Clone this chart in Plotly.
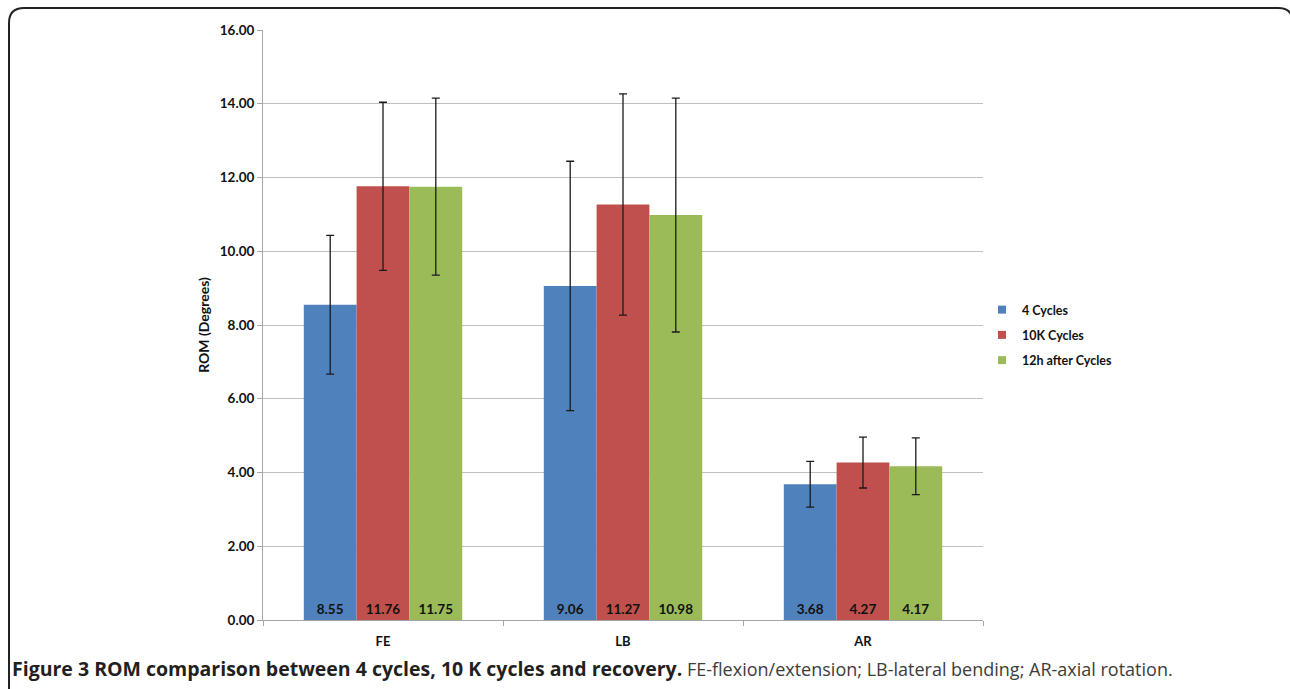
import plotly.graph_objects as go

# ROM per motion and loading condition (degrees), with standard deviations
motions = ["FE", "LB", "AR"]
series_names = ["4 Cycles", "10K Cycles", "12h after Cycles"]
rom_4_cycles = [8.55, 9.06, 3.68]
rom_10k_cycles = [11.76, 11.27, 4.27]
rom_12h_after = [11.75, 10.98, 4.17]
sd_4_cycles = [1.88, 3.38, 0.62]
sd_10k_cycles = [2.28, 3.00, 0.69]
sd_12h_after = [2.40, 3.17, 0.77]
y_ticks = [0, 2, 4, 6, 8, 10, 12, 14, 16]

colors = ["#4f81bd", "#c0504d", "#9bbb59"]
values = [rom_4_cycles, rom_10k_cycles, rom_12h_after]
errors = [sd_4_cycles, sd_10k_cycles, sd_12h_after]

W, H = 1290, 689
L, R, T, B = 263, 983, 30, 620  # plot area in pixels


def px(x):
    return (x - L) / (R - L)


def py(y):
    return (B - y) / (B - T)


FONT = "Lato"
INK = "#111111"

fig = go.Figure()
for i, name in enumerate(series_names):
    fig.add_trace(go.Bar(
        x=motions,
        y=values[i],
        name=name,
        showlegend=False,
        marker=dict(color=colors[i], line=dict(width=0)),
        error_y=dict(type="data", array=errors[i], visible=True,
                     color="#1a1a1a", thickness=1.3, width=4),
        text=[f"{v:.2f}" for v in values[i]],
        textposition="inside",
        insidetextanchor="start",
        constraintext="none",
        textfont=dict(family=FONT, size=13.5, color=INK, weight="bold"),
        hoverinfo="skip",
    ))

# legend entries with small square keys
for i, name in enumerate(series_names):
    fig.add_trace(go.Scatter(
        x=[None], y=[None], mode="markers", name=name, legendgroup=name,
        marker=dict(symbol="square", size=8, color=colors[i]),
        hoverinfo="skip",
    ))

# rounded frame around the figure
x0, x1 = px(9), px(1293)
y_top, y_bot = py(8), py(700)
r_x = 15 / (R - L)
r_y = 15 / (B - T)
frame = (f"M {x0} {y_bot} L {x0} {y_top - r_y} "
         f"Q {x0} {y_top} {x0 + r_x} {y_top} "
         f"L {x1 - r_x} {y_top} Q {x1} {y_top} {x1} {y_top - r_y} "
         f"L {x1} {y_bot}")
fig.add_shape(type="path", path=frame, xref="paper", yref="paper",
              line=dict(color="#222222", width=2))

fig.add_annotation(
    x=px(10), y=py(668), xref="paper", yref="paper",
    xanchor="left", yanchor="middle", showarrow=False,
    text=("<b><span style='font-size:19.5px'>Figure 3 ROM comparison between 4 cycles, "
          "10 K cycles and recovery.</span></b>"
          " <span style='color:#3c3c3c'>FE-flexion/extension; LB-lateral bending; "
          "AR-axial rotation.</span>"),
    font=dict(family="Open Sans", size=18, color="#231f20"),
)

fig.update_layout(
    width=W, height=H,
    margin=dict(l=L, r=W - R, t=T, b=H - B, pad=0),
    paper_bgcolor="white", plot_bgcolor="white",
    barmode="group", bargap=0.34, bargroupgap=0,
    font=dict(family=FONT, size=12, color=INK),
    legend=dict(
        x=px(982), y=py(335), xanchor="left", yanchor="middle",
        font=dict(family=FONT, size=12.5, color=INK, weight="bold"),
        itemwidth=30, tracegroupgap=6, bgcolor="rgba(0,0,0,0)",
    ),
    xaxis=dict(
        type="category", showline=True, linecolor="#a6a6a6", linewidth=1,
        ticks="outside", tickson="boundaries", ticklen=5, tickcolor="#a6a6a6",
        ticklabelstandoff=9,
        tickfont=dict(family=FONT, size=13, color=INK, weight="bold"),
        showgrid=False,
    ),
    yaxis=dict(
        range=[0, 16], tickvals=y_ticks, ticktext=[f"{v:.2f}" for v in y_ticks],
        showline=True, linecolor="#a6a6a6", linewidth=1,
        ticks="outside", ticklen=5, tickcolor="#a6a6a6",
        showgrid=True, gridcolor="#bfbfbf", gridwidth=1, zeroline=False,
        tickfont=dict(family=FONT, size=13.5, color=INK, weight="bold"),
        title=dict(text="ROM (Degrees)", standoff=6,
                   font=dict(family=FONT, size=14, color=INK, weight="bold")),
    ),
)

fig.write_html("out.html")
